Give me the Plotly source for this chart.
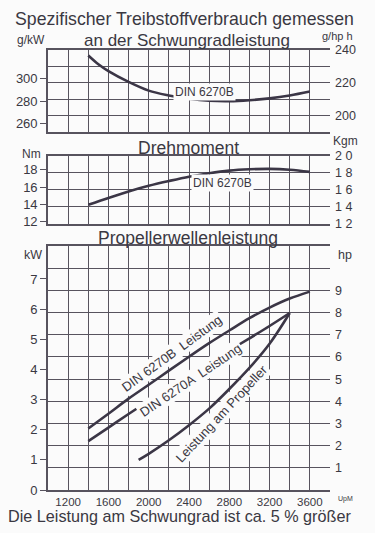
import plotly.graph_objects as go

# ---------------- data ----------------
rpm_sfc = [1400, 1500, 1600, 1800, 2000, 2200, 2400, 2600, 2800, 3000, 3200, 3400, 3600]
sfc_gkw = [320.8, 313.0, 306.9, 297.3, 289.5, 285.2, 282.2, 280.4, 280.0, 280.9, 282.6, 285.2, 288.7]

rpm_tq = [1400, 1600, 1800, 2000, 2200, 2400, 2600, 2800, 3000, 3200, 3400, 3600]
torque_nm = [13.95, 14.75, 15.5, 16.15, 16.7, 17.2, 17.6, 17.9, 18.05, 18.1, 18.0, 17.75]

rpm_b = [1400, 1600, 1800, 2000, 2200, 2400, 2600, 2800, 3000, 3200, 3400, 3600]
power_b_kw = [2.04, 2.53, 3.03, 3.49, 3.96, 4.42, 4.87, 5.29, 5.7, 6.05, 6.35, 6.58]

rpm_a = [1400, 1600, 1800, 2000, 2200, 2400, 2600, 2800, 3000, 3200, 3400]
power_a_kw = [1.62, 2.07, 2.52, 2.96, 3.39, 3.82, 4.23, 4.63, 5.03, 5.44, 5.87]

rpm_p = [1900, 2000, 2200, 2400, 2600, 2800, 3000, 3200, 3400]
power_p_kw = [1.0, 1.2, 1.65, 2.15, 2.7, 3.35, 4.05, 4.85, 5.87]

x_ticks = [1200, 1400, 1600, 1800, 2000, 2200, 2400, 2600, 2800, 3000, 3200, 3400, 3600]
x_labels = ["1200", "", "1600", "", "2000", "", "2400", "", "2800", "", "3200", "", "3600"]

sfc_left_ticks = [260, 280, 300]
sfc_right_ticks = [190, 200, 210, 220, 230, 240]
sfc_right_labels = ["", "200", "", "220", "", "240"]

tq_left_ticks = [12, 14, 16, 18]
tq_right_ticks = [1.2, 1.4, 1.6, 1.8, 2.0]
tq_right_labels = ["1 2", "1 4", "1 6", "1 8", "2 0"]

kw_ticks = [0, 1, 2, 3, 4, 5, 6, 7]
hp_ticks = [0, 1, 2, 3, 4, 5, 6, 7, 8, 9, 10, 11]
hp_labels = ["", "1", "2", "3", "4", "5", "6", "7", "8", "9", "", ""]

# ---------------- styling ----------------
W, H = 375, 533
FONT = "Liberation Sans"
TXT = "#3a3842"
GRID = "#57535e"
CURVE = "#3b3646"
BG = "#fbfbfb"

def py(px):
    return 1 - px / H

xdom = [48 / W, 330 / W]
p1 = [py(129), py(44)]
p2 = [py(223), py(153)]
p3 = [py(497), py(246)]

fig = go.Figure()
line = dict(color=CURVE, width=2.6, shape="spline")
fig.add_trace(go.Scatter(x=rpm_sfc, y=sfc_gkw, mode="lines", line=line, xaxis="x", yaxis="y", hoverinfo="skip"))
fig.add_trace(go.Scatter(x=rpm_tq, y=torque_nm, mode="lines", line=line, xaxis="x2", yaxis="y3", hoverinfo="skip"))
for xs, ys in [(rpm_b, power_b_kw), (rpm_a, power_a_kw), (rpm_p, power_p_kw)]:
    fig.add_trace(go.Scatter(x=xs, y=ys, mode="lines", line=line, xaxis="x3", yaxis="y5", hoverinfo="skip"))
# empty traces so the secondary (right) axes get drawn
for xa, ya in [("x", "y2"), ("x2", "y4"), ("x3", "y6")]:
    fig.add_trace(go.Scatter(x=[], y=[], mode="lines", xaxis=xa, yaxis=ya, hoverinfo="skip"))

xcommon = dict(range=[1000, 3800], domain=xdom, tickmode="array", tickvals=x_ticks,
               showgrid=True, gridcolor=GRID, gridwidth=1.3, showline=True, mirror=True,
               linecolor=GRID, linewidth=1.6, zeroline=False, ticks="", fixedrange=True)
tf = dict(size=13, color=TXT, family=FONT)
tfr = dict(size=12.5, color=TXT, family=FONT)
left = dict(ticks="outside", ticklen=6, tickcolor=GRID, tickwidth=1.3, showgrid=False, zeroline=False,
            showline=True, linecolor=GRID, linewidth=1.6, tickfont=tf, tickmode="array", fixedrange=True)
right = dict(side="right", showgrid=True, gridcolor=GRID, gridwidth=1.3, zeroline=False, ticks="",
             ticklabelstandoff=4, tickfont=tfr, tickmode="array", showline=False, fixedrange=True)

fig.update_layout(
    xaxis=dict(**xcommon, anchor="y", showticklabels=False),
    xaxis2=dict(**xcommon, anchor="y3", showticklabels=False),
    xaxis3=dict(**xcommon, anchor="y5", showticklabels=True, ticktext=x_labels, ticklabelstandoff=0,
                tickfont=dict(size=11.5, color=TXT, family=FONT)),
    yaxis=dict(**left, domain=p1, range=[252.2, 326], anchor="x", tickvals=sfc_left_ticks),
    yaxis2=dict(**right, overlaying="y", anchor="x", range=[190, 240],
                tickvals=sfc_right_ticks, ticktext=sfc_right_labels),
    yaxis3=dict(**left, domain=p2, range=[11.77, 19.62], anchor="x2", tickvals=tq_left_ticks),
    yaxis4=dict(**right, overlaying="y3", anchor="x2", range=[1.2, 2.0],
                tickvals=tq_right_ticks, ticktext=tq_right_labels),
    yaxis5=dict(**left, domain=p3, range=[0, 11 * 0.7355], anchor="x3", tickvals=kw_ticks),
    yaxis6=dict(**right, overlaying="y5", anchor="x3", range=[0, 11],
                tickvals=hp_ticks, ticktext=hp_labels),
    width=W, height=H, margin=dict(l=0, r=0, t=0, b=0),
    paper_bgcolor=BG, plot_bgcolor=BG, showlegend=False,
    font=dict(family=FONT, color=TXT),
)

def ptext(text, x, y, size, **kw):
    fig.add_annotation(text=text, x=x / W, y=py(y), xref="paper", yref="paper", showarrow=False,
                       xanchor="center", yanchor="middle",
                       font=dict(size=size, color=TXT, family=FONT), **kw)

ptext("Spezifischer Treibstoffverbrauch gemessen", 184, 12, 17.7)
ptext("an der Schwungradleistung", 187, 34.5, 17)
ptext("g/kW", 31, 34, 12)
ptext("g/hp h", 337, 29.5, 11)
ptext("Drehmoment", 188, 145, 17.5)
ptext("Nm", 31, 151, 12)
ptext("Kgm", 345, 137.5, 12)
ptext("Propellerwellenleistung", 188, 238, 17.5)
ptext("kW", 33, 255, 12.5)
ptext("hp", 345, 255, 12.5)
ptext("UpM", 345, 506, 7)
ptext("Die Leistung am Schwungrad ist ca. 5 % größer", 179, 523.5, 16.2)

def dtext(text, x, y, xr, yr, size, angle=0):
    fig.add_annotation(text=text, x=x, y=y, xref=xr, yref=yr, showarrow=False, textangle=angle,
                       xanchor="center", yanchor="middle",
                       font=dict(size=size, color=TXT, family=FONT), bgcolor=BG)

dtext("DIN 6270B", 2549, 288.4, "x", "y", 12)
dtext("DIN 6270B", 2733, 16.5, "x2", "y3", 12)
dtext("DIN 6270B  Leistung", 2228, 4.52, "x3", "y5", 13, -36)
dtext("DIN 6270A  Leistung", 2410, 3.64, "x3", "y5", 13, -34)
dtext("Leistung am Propeller", 2725, 2.54, "x3", "y5", 13, -47)

fig.write_html("out.html", config={"displayModeBar": False},
               post_script="document.body.style.margin='0';document.body.style.background='%s';" % BG)
